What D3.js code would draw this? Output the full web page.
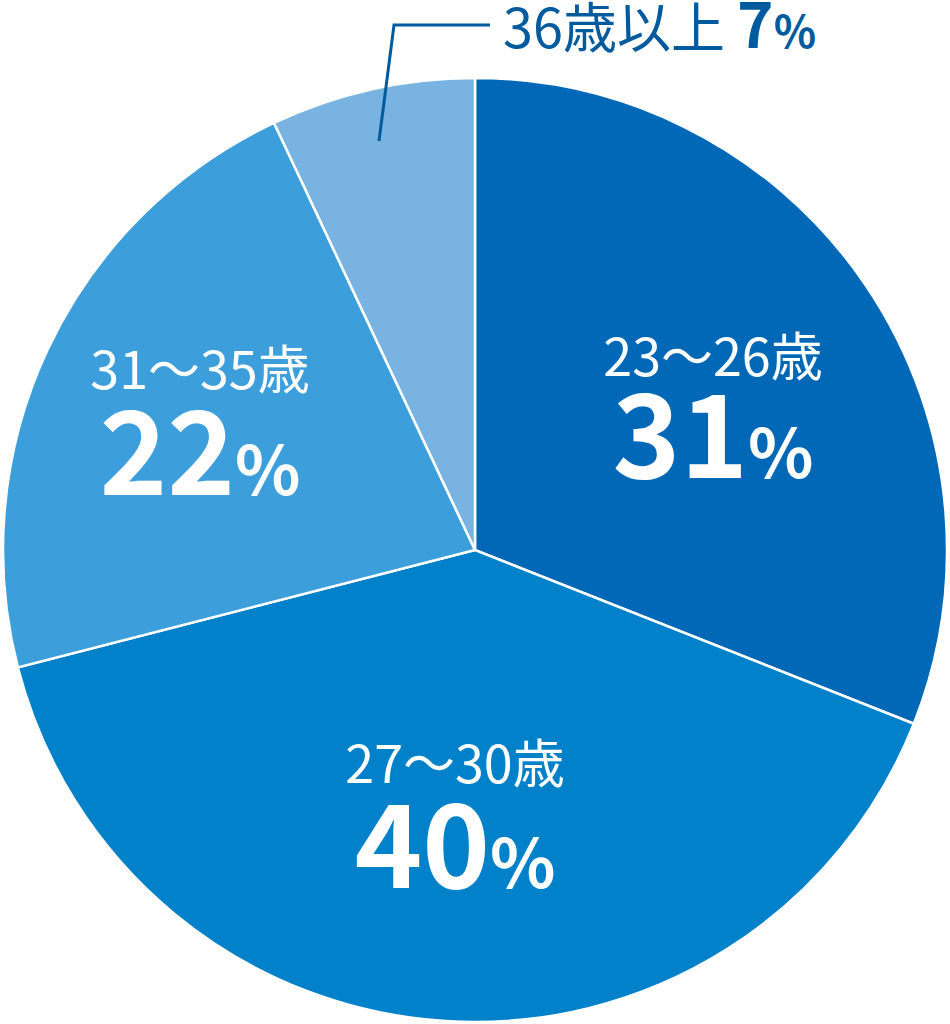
<!DOCTYPE html><html><head><meta charset="utf-8"><script src="https://cdn.jsdelivr.net/npm/d3@7"></script>
<style>body{margin:0;background:#fff}</style></head><body><svg id="c" width="950" height="1024"></svg>
<script>
const categories=["23〜26歳","27〜30歳","31〜35歳","36歳以上"];
const values=[31,40,22,7];
const colors=["#0068b7","#0081c9","#3c9fdc","#78b3e2"];
const svg=d3.select("#c");
const cx=475,cy=550,R=472;
const g=svg.append("g").attr("transform",`translate(${cx},${cy})`);
const pie=d3.pie().sort(null).value(d=>d)(values);
const arc=d3.arc().innerRadius(0).outerRadius(R);
g.selectAll("path").data(pie).join("path").attr("d",arc).attr("fill",(d,i)=>colors[i]).attr("stroke","#fff").attr("stroke-width",2.5);
const font="'Noto Sans CJK JP','Noto Sans',sans-serif";
const pos=[[713,376,478],[455,783,888],[200,389,495]];
pos.forEach((p,i)=>{
  svg.append("text").attr("x",p[0]).attr("y",p[1]).attr("text-anchor","middle").attr("fill","#fff").attr("font-family",font).attr("font-size",52).text(categories[i]);
  const t=svg.append("text").attr("x",p[0]).attr("y",p[2]).attr("text-anchor","middle").attr("fill","#fff").attr("font-family",font).attr("font-weight","bold");
  t.append("tspan").attr("font-size",115).text(values[i]);
  t.append("tspan").attr("font-size",68).text("%");
});
svg.append("path").attr("d","M379,141L394,25L490,25").attr("fill","none").attr("stroke","#005a9e").attr("stroke-width",3);
const t=svg.append("text").attr("x",503).attr("y",48).attr("fill","#005a9e").attr("font-family",font).attr("font-size",54);
t.append("tspan").text(categories[3]+" ");
t.append("tspan").attr("font-weight","bold").attr("font-size",62).text(values[3]);
t.append("tspan").attr("font-weight","bold").attr("font-size",44).text("%");
</script></body></html>
